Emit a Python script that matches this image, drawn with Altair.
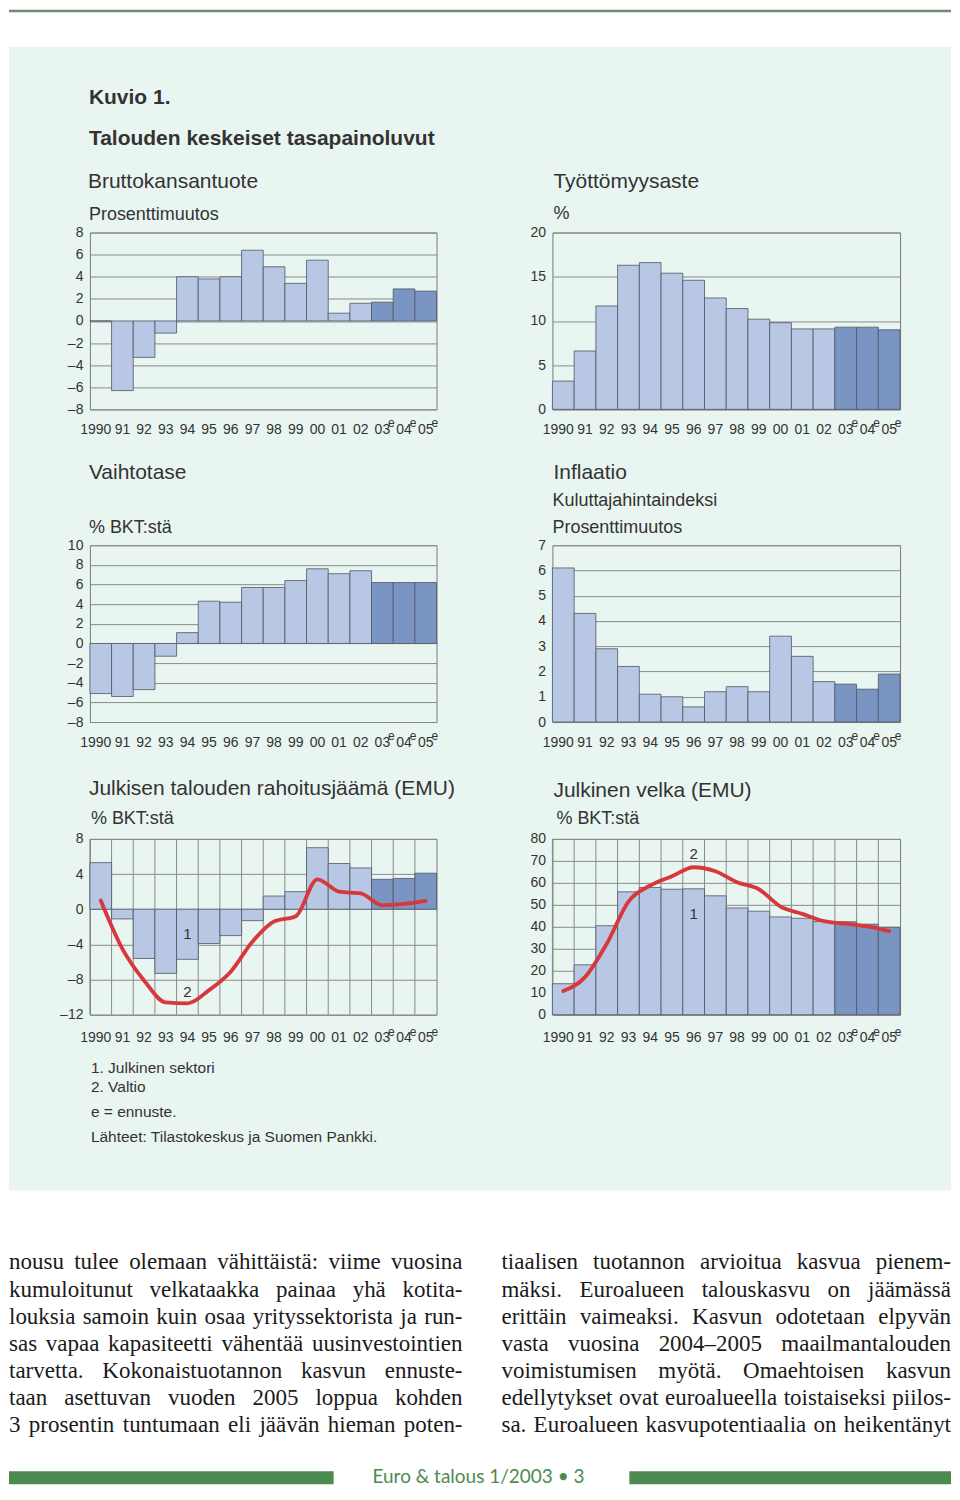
import altair as alt
import pandas as pd

# ---------------- data ----------------
years = ["1990", "91", "92", "93", "94", "95", "96", "97", "98", "99",
         "00", "01", "02", "03", "04", "05"]
forecast_years = ["03", "04", "05"]

bkt = [0.0, -6.3, -3.3, -1.1, 4.0, 3.8, 4.0, 6.4, 4.9, 3.4, 5.5, 0.7, 1.6, 1.7, 2.9, 2.7]
tyott = [3.2, 6.6, 11.7, 16.3, 16.6, 15.4, 14.6, 12.6, 11.4, 10.2, 9.8, 9.1, 9.1, 9.3, 9.3, 9.0]
vaihto = [-5.1, -5.4, -4.7, -1.3, 1.1, 4.3, 4.2, 5.7, 5.7, 6.4, 7.6, 7.1, 7.4, 6.2, 6.2, 6.2]
inflaatio = [6.1, 4.3, 2.9, 2.2, 1.1, 1.0, 0.6, 1.2, 1.4, 1.2, 3.4, 2.6, 1.6, 1.5, 1.3, 1.9]
jaama_sektori = [5.3, -1.1, -5.6, -7.3, -5.7, -3.9, -3.0, -1.3, 1.5, 2.0, 7.0, 5.2, 4.7, 3.4, 3.5, 4.1]
jaama_valtio = [1.0, -4.5, -8.1, -10.6, -10.7, -9.2, -7.1, -3.7, -1.4, -0.8, 3.4, 2.0, 1.8, 0.45, 0.6, 0.95]
velka_sektori = [14.1, 22.7, 40.5, 55.9, 57.9, 57.1, 57.3, 54.1, 48.6, 47.1, 44.5, 43.9, 42.4, 42.3, 41.2, 39.8]
velka_valtio = [10.8, 17.1, 32.3, 51.5, 58.8, 63.0, 67.1, 65.3, 60.3, 57.1, 49.2, 45.9, 42.6, 41.4, 40.2, 38.0]

ticks_bkt = [-8, -6, -4, -2, 0, 2, 4, 6, 8]
ticks_tyott = [0, 5, 10, 15, 20]
ticks_vaihto = [-8, -6, -4, -2, 0, 2, 4, 6, 8, 10]
ticks_infl = [0, 1, 2, 3, 4, 5, 6, 7]
ticks_jaama = [-12, -8, -4, 0, 4, 8]
ticks_velka = [0, 10, 20, 30, 40, 50, 60, 70, 80]

ann_jaama_years = ["94", "94"]
ann_jaama_vals = [-2.8, -9.4]
ann_jaama_text = ["1", "2"]
ann_velka_years = ["96", "96"]
ann_velka_vals = [45.9, 73.2]
ann_velka_text = ["1", "2"]

title_main = "Kuvio 1."
title_sub = "Talouden keskeiset tasapainoluvut"
footnotes = ["1. Julkinen sektori", "2. Valtio", "e = ennuste.",
             "Lähteet: Tilastokeskus ja Suomen Pankki."]
body_left = [
    "nousu tulee olemaan vähittäistä: viime vuosina",
    "kumuloitunut velkataakka painaa yhä kotita-",
    "louksia samoin kuin osaa yrityssektorista ja run-",
    "sas vapaa kapasiteetti vähentää uusinvestointien",
    "tarvetta. Kokonaistuotannon kasvun ennuste-",
    "taan asettuvan vuoden 2005 loppua kohden",
    "3 prosentin tuntumaan eli jäävän hieman poten-",
]
body_right = [
    "tiaalisen tuotannon arvioitua kasvua pienem-",
    "mäksi. Euroalueen talouskasvu on jäämässä",
    "erittäin vaimeaksi. Kasvun odotetaan elpyvän",
    "vasta vuosina 2004–2005 maailmantalouden",
    "voimistumisen myötä. Omaehtoisen kasvun",
    "edellytykset ovat euroalueella toistaiseksi piilos-",
    "sa. Euroalueen kasvupotentiaalia on heikentänyt",
]
footer_text = "Euro & talous 1/2003 • 3"

# ---------------- style ----------------
FONT = "Liberation Sans"
SERIF = "Liberation Serif"
TXT = "#333333"
LIGHT = "#b8c7e4"
DARK = "#7b95c3"
EDGE = "#4f5666"
GRID = "#8a8a8a"
FRAME = "#7a7a7a"
RED = "#d8373c"
MINT = "#e9f5f0"
GREEN = "#4d8a4f"

PW_L, PW_R, PH = 347, 348, 177
RIGHT = 862  # right page edge in panel-relative pixels


def panel(values, dom, ticks, w, h, lab_pad, line=None, vgrid=False, ann=None):
    df = pd.DataFrame({
        "year": years,
        "v": values,
        "kind": ["e" if y in forecast_years else "h" for y in years],
    })
    if line is not None:
        df["v2"] = line
    xax = alt.Axis(title=None, labelAngle=0, ticks=False, tickSize=0, domain=False,
                   grid=False, labelPadding=lab_pad, labelFont=FONT, labelFontSize=14,
                   labelColor=TXT,
                   labelOffset=alt.condition("datum.value == '1990'", alt.value(-5), alt.value(0)))
    yax = alt.Axis(title=None, values=ticks, ticks=False, tickSize=0, domain=False,
                   grid=True, gridColor=GRID, gridWidth=1, labelPadding=7,
                   labelFont=FONT, labelFontSize=14, labelColor=TXT, labelOverlap=False,
                   labelExpr="replace(replace(datum.label, '\u2212', '\u2013'), '-', '\u2013')")
    xscale = alt.Scale(paddingInner=0, paddingOuter=0)
    yscale = alt.Scale(domain=dom, nice=False, zero=False)

    def X(band=None):
        if band is None:
            return alt.X("year:N", sort=years, scale=xscale, axis=xax, title=None)
        return alt.X("year:N", sort=years, scale=xscale, axis=xax, title=None, bandPosition=band)

    def Y(field):
        return alt.Y(f"{field}:Q", scale=yscale, axis=yax, title=None)

    layers = []
    if vgrid:
        layers.append(alt.Chart(df).mark_rule(color=GRID, strokeWidth=1).encode(
            x=X(0), y=alt.value(0), y2=alt.value(h)))
    layers.append(alt.Chart(df).mark_bar(stroke=EDGE, strokeWidth=0.8).encode(
        x=X(), y=Y("v"), y2=alt.datum(0),
        color=alt.Color("kind:N", scale=alt.Scale(domain=["h", "e"], range=[LIGHT, DARK]),
                        legend=None)))
    if line is not None:
        layers.append(alt.Chart(df).mark_line(color=RED, strokeWidth=3.8, interpolate="monotone",
                                              strokeCap="round").encode(x=X(), y=Y("v2")))
    if ann is not None:
        adf = pd.DataFrame({"year": ann[0], "v": ann[1], "t": ann[2]})
        layers.append(alt.Chart(adf).mark_text(font=FONT, fontSize=15, color=TXT).encode(
            x=X(), y=Y("v"), text="t:N"))
    edf = pd.DataFrame({"year": forecast_years})
    layers.append(alt.Chart(edf).mark_text(text="e", font=FONT, fontSize=12, color=TXT, dx=9,
                                           baseline="top").encode(
        x=X(), y=alt.value(h + lab_pad - 4)))
    return alt.layer(*layers).properties(
        width=w, height=h, view=alt.ViewBackground(stroke=FRAME, strokeWidth=1))


p1 = panel(bkt, [-8, 8], ticks_bkt, PW_L, PH, 13)
p2 = panel(tyott, [0, 20], ticks_tyott, PW_R, PH, 13)
p3 = panel(vaihto, [-8, 10], ticks_vaihto, PW_L, PH, 13)
p4 = panel(inflaatio, [0, 7], ticks_infl, PW_R, PH, 13)
p5 = panel(jaama_sektori, [-12, 8], ticks_jaama, PW_L, 176, 16, line=jaama_valtio, vgrid=True,
           ann=(ann_jaama_years, ann_jaama_vals, ann_jaama_text))
p6 = panel(velka_sektori, [0, 80], ticks_velka, PW_R, 176, 16, line=velka_valtio, vgrid=True,
           ann=(ann_velka_years, ann_velka_vals, ann_velka_text))

# ---------------- page decoration (pixel layout relative to first panel column) ----------------
ONE = alt.Data(values=[{}])


def txt(s, x, y, size, bold=False, font=FONT, color=TXT, align="left"):
    return alt.Chart(ONE).mark_text(text=s, font=font, fontSize=size,
                                    fontWeight="bold" if bold else "normal",
                                    color=color, align=align, baseline="alphabetic").encode(
        x=alt.value(x), y=alt.value(y))


def rect(x1, x2, y1, y2, color):
    return alt.Chart(ONE).mark_rect(color=color).encode(
        x=alt.value(x1), x2=alt.value(x2), y=alt.value(y1), y2=alt.value(y2))


TW = {' ': 250, 'a': 444, 'b': 500, 'c': 444, 'd': 500, 'e': 444, 'f': 333, 'g': 500, 'h': 500,
      'i': 278, 'j': 278, 'k': 500, 'l': 278, 'm': 778, 'n': 500, 'o': 500, 'p': 500, 'q': 500,
      'r': 333, 's': 389, 't': 278, 'u': 500, 'v': 500, 'w': 722, 'x': 500, 'y': 500, 'z': 444,
      'ä': 444, 'ö': 500, '.': 250, ',': 250, ':': 278, '-': 333, '–': 500,
      'K': 722, 'E': 611, 'O': 722, 'T': 611}
BODY_SIZE = 23


def body_line(line, x0, x1, y):
    words = line.split(" ")
    widths = [sum(TW.get(c, 500) for c in w) * BODY_SIZE / 1000 for w in words]
    gap = max(3.0, (x1 - x0 - sum(widths)) / max(1, len(words) - 1))
    rows = []
    cur = x0
    for w, wd in zip(words[:-1], widths[:-1]):
        rows.append({"w": w, "px": cur})
        cur += wd + gap
    return [
        alt.Chart(alt.Data(values=rows)).mark_text(font=SERIF, fontSize=BODY_SIZE, color="#1a1a1a",
                                                   align="left", baseline="alphabetic").encode(
            x=alt.X("px:Q", scale=None, axis=None), y=alt.value(y), text="w:N"),
        txt(words[-1], x1, y, BODY_SIZE, font=SERIF, color="#1a1a1a", align="right"),
    ]


deco_layers = [
    rect(-81, RIGHT, 37, 1182, MINT),
    rect(-81, RIGHT, 0, 2.5, "#6f8c6f"),
    txt(title_main, -1, 94, 21, bold=True),
    txt(title_sub, -1, 135, 21, bold=True),
    txt("Bruttokansantuote", -2, 178, 21),
    txt("Prosenttimuutos", -1, 210, 18),
    txt("Työttömyysaste", 464, 178, 21),
    txt("%", 464, 209, 18),
    txt("Vaihtotase", -1, 470, 21),
    txt("% BKT:stä", -1, 524, 18),
    txt("Inflaatio", 464, 470, 21),
    txt("Kuluttajahintaindeksi", 463, 497, 18),
    txt("Prosenttimuutos", 463, 524, 18),
    txt("Julkisen talouden rahoitusjäämä (EMU)", -1, 786, 21),
    txt("% BKT:stä", 1, 815, 18),
    txt("Julkinen velka (EMU)", 464, 788, 21),
    txt("% BKT:stä", 467, 815, 18),
]
for fn, yy in zip(footnotes, [1064, 1083, 1108, 1133]):
    deco_layers.append(txt(fn, 1, yy, 15.5))
for i, ln in enumerate(body_left):
    deco_layers += body_line(ln, -81, 373, 1261 + 27.2 * i)
for i, ln in enumerate(body_right):
    deco_layers += body_line(ln, 412, RIGHT, 1261 + 27.2 * i)
deco_layers += [
    rect(-81, 244, 1463, 1476, GREEN),
    rect(540, RIGHT, 1463, 1476, GREEN),
    txt(footer_text, 389, 1475, 19, font="Lato", color=GREEN, align="center"),
]

deco = alt.layer(*deco_layers).properties(width=PW_L, height=223,
                                          view=alt.ViewBackground(stroke="transparent"))


def spacer(w, h):
    return alt.Chart(ONE).mark_rect(opacity=0).encode(
        x=alt.value(0), x2=alt.value(0), y=alt.value(0), y2=alt.value(0)).properties(
        width=w, height=h, view=alt.ViewBackground(stroke="transparent"))


chart = alt.concat(
    deco, spacer(PW_R, 1),
    p1, p2,
    spacer(PW_L, 136), spacer(PW_R, 1),
    p3, p4,
    spacer(PW_L, 117), spacer(PW_R, 1),
    p5, p6,
    columns=2, spacing={"row": 0, "column": 116}, bounds="flush", align="each",
).properties(padding=0).configure_view(stroke="transparent")

chart.save("out.html", embed_options={"renderer": "svg", "actions": False})
